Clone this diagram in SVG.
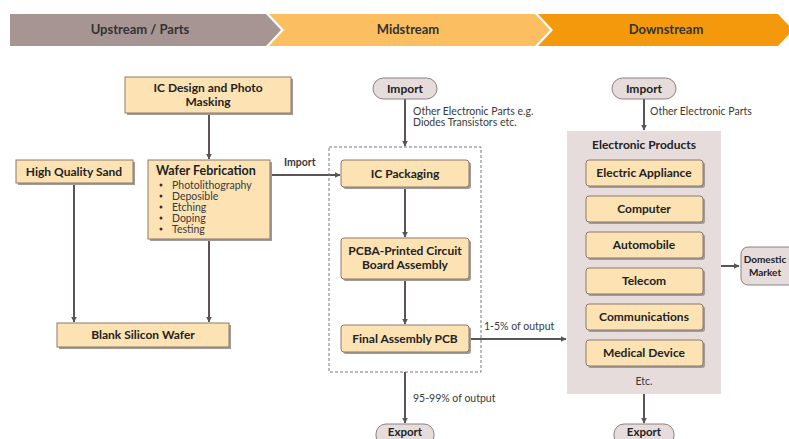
<svg xmlns="http://www.w3.org/2000/svg" width="789" height="439" viewBox="0 0 789 439">
<defs>
<marker id="ah" viewBox="0 0 10 10" refX="9" refY="5" markerWidth="6" markerHeight="6" orient="auto" markerUnits="userSpaceOnUse">
<path d="M0,0 L10,5 L0,10 z" fill="#5b5355"/>
</marker>
<style>
.box{fill:#fde2b4;stroke:#8c7b6a;stroke-width:1}
.sh{fill:#a09a98}
.oval{fill:#e6dcdc;stroke:#8c8082;stroke-width:1}
.t{font-family:Lato,"Open Sans",sans-serif;font-weight:bold;font-size:12px;fill:#222;text-anchor:middle}
.tl{font-family:Lato,"Open Sans",sans-serif;font-size:10.5px;fill:#3a3a3a}
.hd{font-family:Lato,"Open Sans",sans-serif;font-weight:bold;font-size:13px;fill:#333;text-anchor:middle}
.c{stroke:#5b5355;stroke-width:2;fill:none}
</style>
</defs>
<rect width="789" height="439" fill="#fff"/>
<g id="header">
<polygon points="10,14 266,14 281,30 266,46 10,46" fill="#a69593"/>
<polygon points="269,14 535,14 550,30 535,46 269,46 284,30" fill="#fbbf62"/>
<polygon points="538,14 778,14 793,30 778,46 538,46 553,30" fill="#f5990c"/>
<text class="hd" x="140" y="34">Upstream / Parts</text>
<text class="hd" x="408" y="34">Midstream</text>
<text class="hd" x="666" y="34">Downstream</text>
</g>
<g id="connectors">
<line class="c" x1="209" y1="113" x2="209" y2="159" marker-end="url(#ah)"/>
<line class="c" x1="74" y1="183" x2="74" y2="322" marker-end="url(#ah)"/>
<line class="c" x1="209" y1="239" x2="209" y2="322" marker-end="url(#ah)"/>
<line class="c" x1="270" y1="175" x2="340" y2="175" marker-end="url(#ah)"/>
<text class="tl" x="284" y="166" style="font-weight:bold">Import</text>
<line class="c" x1="405" y1="99" x2="405" y2="146" marker-end="url(#ah)"/>
<text class="tl" x="413" y="115">Other Electronic Parts e.g.</text>
<text class="tl" x="413" y="126">Diodes Transistors etc.</text>
<line class="c" x1="405" y1="187" x2="405" y2="237" marker-end="url(#ah)"/>
<line class="c" x1="405" y1="279" x2="405" y2="324" marker-end="url(#ah)"/>
<line class="c" x1="469" y1="339" x2="566" y2="339" marker-end="url(#ah)"/>
<text class="tl" x="484" y="330">1-5% of output</text>
<line class="c" x1="405" y1="372" x2="405" y2="423" marker-end="url(#ah)"/>
<text class="tl" x="413" y="402">95-99% of output</text>
<line class="c" x1="644" y1="99" x2="644" y2="130" marker-end="url(#ah)"/>
<text class="tl" x="650" y="115">Other Electronic Parts</text>
<line class="c" x1="644" y1="394" x2="644" y2="423" marker-end="url(#ah)"/>
<line class="c" x1="721" y1="266" x2="739" y2="266" marker-end="url(#ah)"/>
</g>
<g id="ic-design">
<rect class="sh" x="127" y="79" width="166" height="36"/>
<rect class="box" x="125" y="77" width="166" height="36"/>
<text class="t" x="208" y="92">IC Design and Photo</text>
<text class="t" x="208" y="106">Masking</text>
</g>
<g id="sand">
<rect class="sh" x="18" y="162" width="117" height="23"/>
<rect class="box" x="16" y="160" width="117" height="23"/>
<text class="t" x="74" y="176">High Quality Sand</text>
</g>
<g id="wafer-fab">
<rect class="sh" x="150" y="162" width="122" height="79"/>
<rect class="box" x="148" y="160" width="122" height="79"/>
<text class="t" x="156" y="175" style="text-anchor:start;font-size:12.5px">Wafer Febrication</text>
<g class="tl">
<circle cx="161" cy="185" r="1.5" fill="#333"/><text x="172" y="188.5">Photolithography</text>
<circle cx="161" cy="196" r="1.5" fill="#333"/><text x="172" y="199.5">Deposible</text>
<circle cx="161" cy="207" r="1.5" fill="#333"/><text x="172" y="210.5">Etching</text>
<circle cx="161" cy="218" r="1.5" fill="#333"/><text x="172" y="221.5">Doping</text>
<circle cx="161" cy="229" r="1.5" fill="#333"/><text x="172" y="232.5">Testing</text>
</g>
</g>
<g id="blank-wafer">
<rect class="sh" x="59" y="325" width="172" height="24"/>
<rect class="box" x="57" y="323" width="172" height="24"/>
<text class="t" x="143" y="339">Blank Silicon Wafer</text>
</g>
<g id="midstream-group">
<rect x="329" y="147" width="152" height="225" fill="none" stroke="#777" stroke-width="1" stroke-dasharray="3,2"/>
</g>
<g id="import-mid">
<rect class="oval" x="373" y="78" width="64" height="21" rx="10.5"/>
<text class="t" x="405" y="93">Import</text>
</g>
<g id="ic-packaging">
<rect class="sh" x="343" y="162" width="128" height="27" rx="3"/>
<rect class="box" x="341" y="160" width="128" height="27" rx="3"/>
<text class="t" x="405" y="178">IC Packaging</text>
</g>
<g id="pcba">
<rect class="sh" x="343" y="240" width="128" height="41" rx="3"/>
<rect class="box" x="341" y="238" width="128" height="41" rx="3"/>
<text class="t" x="405" y="255">PCBA-Printed Circuit</text>
<text class="t" x="405" y="269">Board Assembly</text>
</g>
<g id="final-assembly">
<rect class="sh" x="343" y="327" width="128" height="27" rx="3"/>
<rect class="box" x="341" y="325" width="128" height="27" rx="3"/>
<text class="t" x="405" y="343">Final Assembly PCB</text>
</g>
<g id="export-mid">
<rect class="oval" x="376" y="424" width="58" height="22" rx="10"/>
<text class="t" x="405" y="436" style="font-size:11.5px">Export</text>
</g>
<g id="electronic-products">
<rect x="567" y="131" width="154" height="263" fill="#e6dcdb"/>
<text class="t" x="644" y="149">Electronic Products</text>
<text class="tl" x="644" y="385" style="text-anchor:middle">Etc.</text>
</g>
<g id="electric-appliance">
<rect class="sh" x="588" y="162" width="117" height="26" rx="3"/>
<rect class="box" x="586" y="160" width="117" height="26" rx="3"/>
<text class="t" x="644" y="177">Electric Appliance</text>
</g>
<g id="computer">
<rect class="sh" x="588" y="198" width="117" height="26" rx="3"/>
<rect class="box" x="586" y="196" width="117" height="26" rx="3"/>
<text class="t" x="644" y="213">Computer</text>
</g>
<g id="automobile">
<rect class="sh" x="588" y="234" width="117" height="26" rx="3"/>
<rect class="box" x="586" y="232" width="117" height="26" rx="3"/>
<text class="t" x="644" y="249">Automobile</text>
</g>
<g id="telecom">
<rect class="sh" x="588" y="270" width="117" height="26" rx="3"/>
<rect class="box" x="586" y="268" width="117" height="26" rx="3"/>
<text class="t" x="644" y="285">Telecom</text>
</g>
<g id="communications">
<rect class="sh" x="588" y="306" width="117" height="26" rx="3"/>
<rect class="box" x="586" y="304" width="117" height="26" rx="3"/>
<text class="t" x="644" y="321">Communications</text>
</g>
<g id="medical-device">
<rect class="sh" x="588" y="342" width="117" height="26" rx="3"/>
<rect class="box" x="586" y="340" width="117" height="26" rx="3"/>
<text class="t" x="644" y="357">Medical Device</text>
</g>
<g id="import-down">
<rect class="oval" x="612" y="78" width="64" height="21" rx="10.5"/>
<text class="t" x="644" y="93">Import</text>
</g>
<g id="export-down">
<rect class="oval" x="614" y="424" width="60" height="22" rx="10"/>
<text class="t" x="644" y="436" style="font-size:11.5px">Export</text>
</g>
<g id="domestic-market">
<rect class="oval" x="741" y="247" width="60" height="38" rx="7"/>
<text class="t" x="765" y="263" style="font-size:10px">Domestic</text>
<text class="t" x="765" y="276" style="font-size:10px">Market</text>
</g>
</svg>
